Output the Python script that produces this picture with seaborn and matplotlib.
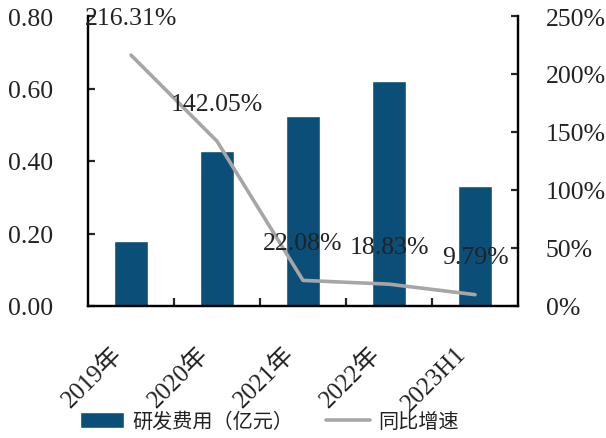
import numpy as np
import pandas as pd
import matplotlib
matplotlib.use("Agg")
import matplotlib.pyplot as plt
import matplotlib.transforms as mtransforms
from matplotlib.ticker import FuncFormatter, FixedLocator
import seaborn as sns

# données
categories = ["2019年", "2020年", "2021年", "2022年", "2023H1"]
rd_cost = [0.178, 0.428, 0.525, 0.622, 0.33]          # 研发费用（亿元）
growth = [2.1631, 1.4205, 0.2208, 0.1883, 0.0979]     # 同比增速
growth_labels = ["216.31%", "142.05%", "22.08%", "18.83%", "9.79%"]

sns.set_theme(style="white")
plt.rcParams['font.family'] = ['Liberation Serif', 'Noto Sans CJK SC', 'DejaVu Sans']

bar_color = "#0B4F79"
line_color = "#A6A6A6"
txt_color = "#222222"

df = pd.DataFrame({"cat": categories, "rd": rd_cost, "g": growth})

fig = plt.figure(figsize=(6.06, 4.39), dpi=100)
ax = fig.add_axes([88/606, 1-307/439, 430/606, 290/439])
sns.barplot(data=df, x="cat", y="rd", color=bar_color, width=0.4,
            saturation=1, ax=ax, label="研发费用（亿元）")
ax.set_xlim(-0.5, 4.5)
ax.set_ylim(0, 0.8)
ax.set_yticks([0, 0.2, 0.4, 0.6, 0.8])
ax.yaxis.set_major_formatter(FuncFormatter(lambda v, p: f"{v:.2f}"))

ax2 = ax.twinx()
sns.lineplot(x=np.arange(len(categories)), y=growth, color=line_color,
             linewidth=2.6, ax=ax2, label="同比增速", legend=False)
ax2.set_ylim(0, 2.5)
ax2.set_yticks([0, 0.5, 1.0, 1.5, 2.0, 2.5])
ax2.yaxis.set_major_formatter(FuncFormatter(lambda v, p: f"{v*100:.0f}%"))

for i, (v, t) in enumerate(zip(growth, growth_labels)):
    ax2.annotate(t, (i, v), xytext=(0, 27), textcoords="offset points",
                 ha="center", va="center", fontsize=18.5, color=txt_color)

# axes style
for a in (ax, ax2):
    a.spines["top"].set_visible(False)
    for s in ("left", "right", "bottom"):
        a.spines[s].set_color("black")
        a.spines[s].set_linewidth(1.6)
    a.set_xlabel("")
    a.set_ylabel("")

ax.tick_params(axis="y", direction="in", length=5, width=1.6, pad=25,
               labelsize=18.5, labelcolor=txt_color, left=True)
ax2.tick_params(axis="y", direction="in", length=5, width=1.6, pad=20,
                labelsize=18.5, labelcolor=txt_color, right=True)
ax.xaxis.set_minor_locator(FixedLocator([0.5, 1.5, 2.5, 3.5]))
ax.tick_params(axis="x", which="minor", direction="in", length=6, width=1.6, bottom=True)
ax.tick_params(axis="x", which="major", length=0, pad=26, labelsize=18, labelcolor=txt_color)
shift = mtransforms.ScaledTranslation(-0.2, 0, fig.dpi_scale_trans)
for lab in ax.get_xticklabels():
    lab.set_rotation(45)
    lab.set_ha("right")
    lab.set_va("top")
    lab.set_rotation_mode("anchor")
    lab.set_transform(lab.get_transform() + shift)

# légende
h1, l1 = ax.get_legend_handles_labels()
h2, l2 = ax2.get_legend_handles_labels()
if ax.get_legend():
    ax.get_legend().remove()
fig.legend(h1 + h2, l1 + l2, loc="center left", bbox_to_anchor=(80/606, 1-423/439),
           ncol=2, frameon=False, fontsize=14.5, borderpad=0, borderaxespad=0,
           handlelength=2.2, handleheight=0.85, handletextpad=0.4, columnspacing=1.6,
           labelcolor=txt_color)

fig.savefig("out.png", dpi=100)
